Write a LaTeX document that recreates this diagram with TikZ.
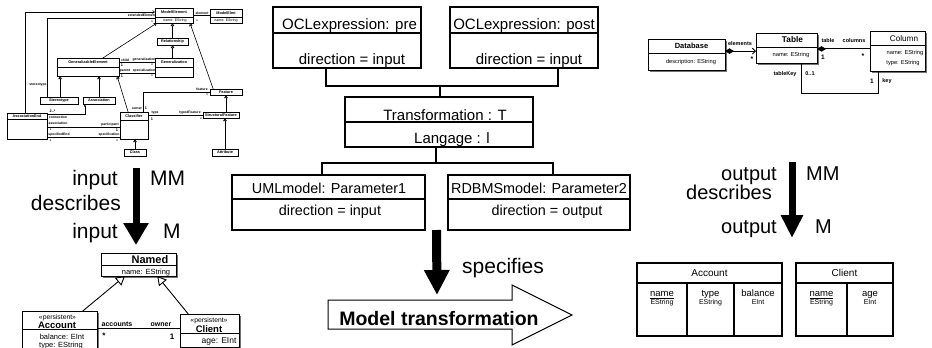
\documentclass[tikz,border=0pt]{standalone}
\usepackage{fontspec}
\setmainfont{Liberation Sans}
\usetikzlibrary{arrows.meta,shadows,calc}
\newcommand\fsz[1]{\fontsize{#1}{#1}\selectfont}
\newcommand\mkbox[6]{%
  \pgfmathsetmacro\mkw{#5-#3}%
  \pgfmathsetmacro\mkh{#6-#4}%
  \node[#1, anchor=north west, minimum width=\mkw pt, minimum height=\mkh pt] (#2) at (#3,#4) {};}
\begin{document}
\begin{tikzpicture}[x=1pt,y=-1pt,
  mainbox/.style={draw, line width=1.8pt, inner sep=0pt, outer sep=0pt},
  mdiv/.style={line width=1.5pt},
  conn/.style={line width=2.4pt},
  ctxt/.style={inner sep=0pt, anchor=base, font=\fsz{15}},
  ptxt/.style={inner sep=0pt, anchor=base, font=\fsz{14.4}},
  bigt/.style={inner sep=0pt, font=\fsz{21}},
  mmbox/.style={draw, line width=0.6pt, fill=white, inner sep=0pt, outer sep=0pt,
    drop shadow={shadow xshift=0.8pt, shadow yshift=-0.8pt, fill=black!60, opacity=1}},
  mmt/.style={inner sep=0pt, font=\fsz{3.8}\bfseries},
  mml/.style={line width=0.6pt},
  inh/.style={mml, -{Triangle[open, length=3pt, width=3.5pt]}},
  umlbox/.style={draw, line width=0.8pt, fill=white, inner sep=0pt, outer sep=0pt,
    drop shadow={shadow xshift=1.5pt, shadow yshift=-1.5pt, fill=black!55, opacity=1}},
  uline/.style={line width=0.9pt},
  ut/.style={inner sep=0pt, font=\fsz{5.5}\bfseries},
  tbl/.style={draw, line width=1.2pt, inner sep=0pt, outer sep=0pt},
  tline/.style={line width=1.1pt}
]
\useasboundingbox (0,0) rectangle (932,348);
\fill[white] (0,0) rectangle (932,348);

%================ centre ================
\mkbox{mainbox}{pre}{273}{7}{421}{68}
\draw[mdiv] (273,33) -- (421,33);
\node[ctxt] (preA) at (349.5,29.3) {OCLexpression: pre};
\node[ctxt] (preB) at (352,64) {direction = input};

\mkbox{mainbox}{post}{450}{7}{598}{68}
\draw[mdiv] (450,33) -- (598,33);
\node[ctxt] (postA) at (524,29.3) {OCLexpression: post};
\node[ctxt] (postB) at (529,64) {direction = input};

\mkbox{mainbox}{trans}{345}{97}{533}{147}
\draw[mdiv] (345,122) -- (533,122);
\node[ctxt] (transA) at (445,120) {Transformation : T};
\node[ctxt] (transB) at (452,143) {Langage : l};

\mkbox{mainbox}{uml}{232}{175}{425}{230}
\draw[mdiv] (232,199) -- (425,199);
\node[ptxt] (umlA) at (329,193) {UMLmodel: Parameter1};
\node[ptxt] (umlB) at (330,215) {direction = input};

\mkbox{mainbox}{rdbms}{448}{175}{630}{230}
\draw[mdiv] (448,199) -- (630,199);
\node[ptxt] (rdA) at (539,193) {RDBMSmodel: Parameter2};
\node[ptxt] (rdB) at (547,215) {direction = output};

\coordinate (jl) at (326,86);
\coordinate (jr) at (558,86);
\coordinate (jt) at (440,86);
\draw[conn] (pre.south -| jl) -- (jl) -- (jr) -- (post.south -| jr);
\draw[conn] (jt) -- (trans.north -| jt);
\coordinate (bt) at (436,163);
\coordinate (bl) at (322,163);
\coordinate (br) at (553,163);
\draw[conn] (trans.south -| bt) -- (bt);
\draw[conn] (uml.north -| bl) -- (bl) -- (br) -- (rdbms.north -| br);

\coordinate (s1) at ($(uml.south east)!0.5!(rdbms.south west)$);
\coordinate (s2) at (437,295);
\draw[line width=9pt, -{Triangle[length=25pt,width=24pt]}] (s1) -- (s2);
\node[inner sep=0pt, anchor=base west, font=\fsz{21}] (spec) at (462,273) {specifies};

\draw[line width=1pt, line join=miter] (328,300) -- (512,300) -- (512,285) -- (572,315) -- (512,345) -- (512,329) -- (328,329) -- cycle;
\node[inner sep=0pt, anchor=base, font=\fsz{19.5}\bfseries] (mt) at (439,325) {Model transformation};

%================ left arrow ================
\coordinate (la1) at (136,168);
\coordinate (la2) at (136,245);
\draw[line width=7pt, -{Triangle[length=22pt,width=24pt]}] (la1) -- (la2);
\node[bigt, anchor=base east] (lin1) at (118,185) {input};
\node[bigt, anchor=base west] (lmm) at (150,185) {MM};
\node[bigt, anchor=base east] (ldes) at (121,210) {describes};
\node[bigt, anchor=base east] (lin2) at (118,238) {input};
\node[bigt, anchor=base west] (lm) at (163,238) {M};

%================ right arrow ================
\coordinate (ra1) at (792,162);
\coordinate (ra2) at (792,238);
\draw[line width=7pt, -{Triangle[length=23pt,width=21pt]}] (ra1) -- (ra2);
\node[bigt, anchor=base east, font=\fsz{20}] (rout1) at (777,180) {output};
\node[bigt, anchor=base west, font=\fsz{20}] (rmm) at (806,180) {MM};
\node[bigt, anchor=base east, font=\fsz{20}] (rdes) at (772,199) {describes};
\node[bigt, anchor=base east, font=\fsz{20}] (rout2) at (777,233) {output};
\node[bigt, anchor=base west, font=\fsz{20}] (rm) at (815,233) {M};

%================ top-left metamodel ================
\mkbox{mmbox}{me}{155}{8}{193}{23}
\draw[mml] (155,17) -- (193,17);
\node[mmt] at (174,12.5) {ModelElement};
\node[mmt, font=\fsz{3.6}] at (175,20.5) {name: EString};
\mkbox{mmbox}{mel}{210}{9}{242}{23}
\draw[mml] (210,17) -- (242,17);
\node[mmt] at (226,13) {ModelElmt};
\node[mmt, font=\fsz{3.6}] at (226,20.5) {name: EString};
\mkbox{mmbox}{rel}{157}{38}{188}{45}
\node[mmt] at (172.5,41.5) {Relationship};
\mkbox{mmbox}{gen}{155}{58}{193}{77}
\draw[mml] (155,67) -- (193,67);
\node[mmt] at (174,62.5) {Generalization};
\mkbox{mmbox}{ge}{57}{58}{119}{76}
\draw[mml] (57,67) -- (119,67);
\node[mmt] at (88,62.5) {GeneralizableElement};
\mkbox{mmbox}{ster}{40}{97}{78}{104}
\node[mmt] at (59,100.5) {Stereotype};
\mkbox{mmbox}{assoc}{83}{97}{115}{104}
\node[mmt] at (99,100.5) {Association};
\mkbox{mmbox}{ae}{7}{113}{47}{139}
\draw[mml] (7,119.5) -- (47,119.5);
\node[mmt] at (27,116) {AssociationEnd};
\mkbox{mmbox}{cl}{120}{112}{148}{139}
\draw[mml] (120,120) -- (148,120);
\node[mmt] at (134,116) {Classifier};
\mkbox{mmbox}{cls}{124}{149}{146}{156}
\node[mmt] at (135,152.5) {Class};
\mkbox{mmbox}{feat}{210}{89}{242}{95}
\node[mmt] at (226,92) {Feature};
\mkbox{mmbox}{sf}{203}{112}{239}{118}
\node[mmt] at (221,115) {StructuralFeature};
\mkbox{mmbox}{attr}{212}{149}{238}{156}
\node[mmt] at (225,152.5) {Attribute};

% inheritance
\draw[inh] (rel.north) -- (rel.north |- me.south);
\draw[inh] (gen.north -| rel.south) -- (rel.south);
\draw[inh] ($(ge.north west)!0.74!(ge.north east)$) -- ($(me.south west)!0.05!(me.south east)$);
\draw[inh] ($(feat.north west)!0.1!(feat.north east)$) -- ($(me.south west)!0.92!(me.south east)$);
\draw[inh] (sf.north -| feat.south) -- (feat.south);
\draw[inh] (attr.north) -- (attr.north |- sf.south);
\draw[inh] (cls.north) -- (cls.north |- cl.south);
\coordinate (gs1) at ($(ge.south west)!0.05!(ge.south east)$);
\draw[inh] (ster.north -| gs1) -- (gs1);
\draw[inh] (assoc.north) -- (assoc.north |- ge.south);
\draw[inh] ($(cl.north west)!0.29!(cl.north east)$) -- ($(ge.south west)!0.97!(ge.south east)$);

% associations
\draw[mml] (me.east) -- (me.east -| mel.west);
\node[mmt, font=\fsz{3.4}\bfseries] at (202,13) {element};
\node[mmt] at (197,21) {*};
\coordinate (gg1) at ($(ge.north east)!0.22!(ge.south east)$);
\coordinate (gg2) at ($(ge.north east)!0.83!(ge.south east)$);
\draw[mml] (gg1) -- (gg1 -| gen.west);
\draw[mml] (gg2) -- (gg2 -| gen.west);
\node[mmt, font=\fsz{3.4}\bfseries] at (125,59.8) {child};
\node[mmt, font=\fsz{3.4}\bfseries] at (144,59.8) {generalization};
\node[mmt] at (122,65.5) {1};
\node[mmt] at (152,65.5) {*};
\node[mmt, font=\fsz{3.4}\bfseries] at (125,70.8) {parent};
\node[mmt, font=\fsz{3.4}\bfseries] at (144,70.8) {specialization};
\node[mmt] at (122,76.5) {1};
\node[mmt] at (152,76.5) {*};
\coordinate (pA) at ($(assoc.south west)!0.06!(assoc.south east)$);
\draw[mml, -{Latex[length=2.5pt,width=2.2pt]}] ($(ae.north east)+(0,1)$) -| (pA);
\node[mmt] at (52.5,111) {2..*};
\node[mmt, font=\fsz{3.4}\bfseries] at (58,117.5) {connection};
\node[mmt, font=\fsz{3.4}\bfseries] at (58,123.5) {association};
\coordinate (ac1) at ($(ae.north east)!0.54!(ae.south east)$);
\coordinate (ac2) at ($(ae.north east)!0.92!(ae.south east)$);
\draw[mml] (ac1) -- (ac1 -| cl.west);
\draw[mml] (ac2) -- (ac2 -| cl.west);
\node[mmt, font=\fsz{3.4}\bfseries] at (110,124.5) {participant};
\node[mmt] at (50.5,130) {*};
\node[mmt] at (117,130) {1};
\node[mmt, font=\fsz{3.4}\bfseries] at (59,134.5) {specifiedEnd};
\node[mmt, font=\fsz{3.4}\bfseries] at (109,134.5) {specification};
\node[mmt] at (50.5,141) {*};
\node[mmt] at (117,141) {*};
\coordinate (cf) at ($(cl.north west)!0.82!(cl.north east)$);
\draw[mml] (cf) |- (feat.west);
\node[mmt, font=\fsz{3.4}\bfseries] at (137,108.5) {owner};
\node[mmt] at (146,108.5) {1};
\node[mmt, font=\fsz{3.4}\bfseries] at (202,89.3) {feature};
\node[mmt] at (207,95.5) {*};
\draw[mml] (sf.west -| cl.east) -- (sf.west);
\node[mmt, font=\fsz{3.4}\bfseries] at (155,112.5) {type};
\node[mmt] at (152,119) {1};
\node[mmt, font=\fsz{3.4}\bfseries] at (190,112.5) {typedFeature};
\node[mmt] at (201,119.5) {*};
\coordinate (fa) at ($(ae.north west)!0.45!(ae.north east)$);
\coordinate (fm) at ($(me.north west)!0.27!(me.south west)$);
\draw[mml, -{Straight Barb[length=2pt,width=3pt]}] (fa) |- (fm);
\coordinate (fs) at ($(ster.north west)!0.18!(ster.north east)$);
\coordinate (fm2) at ($(me.north west)!0.67!(me.south west)$);
\draw[mml] (fs) |- (fm2);
\node[mmt, font=\fsz{3.4}\bfseries] at (142,15.2) {extendedElement};
\node[mmt] at (152,22) {*};
\node[mmt, font=\fsz{3.4}\bfseries] at (38,84.5) {stereotype};

%================ bottom-left model ================
\mkbox{umlbox}{named}{101}{253}{176}{276}
\draw[uline] (101,265) -- (176,265);
\node[inner sep=0pt, anchor=base, font=\fsz{11}\bfseries] at (150,263) {Named};
\node[inner sep=0pt, anchor=base, font=\fsz{7.5}] at (146,274) {name: EString};
\mkbox{umlbox}{acc}{22}{311}{97}{360}
\draw[uline] (22,329.5) -- (97,329.5);
\node[inner sep=0pt, anchor=base, font=\fsz{6.8}] at (57.5,319.5) {«persistent»};
\node[inner sep=0pt, anchor=base, font=\fsz{9.5}\bfseries] at (57,328.5) {Account};
\node[inner sep=0pt, anchor=base, font=\fsz{7.5}] at (62,339.5) {balance: EInt};
\node[inner sep=0pt, anchor=base, font=\fsz{7.5}] at (61,347.3) {type: EString};
\mkbox{umlbox}{cli}{180}{314}{239}{347}
\draw[uline] (180,333.5) -- (239,333.5);
\node[inner sep=0pt, anchor=base, font=\fsz{6.8}] at (209,322.5) {«persistent»};
\node[inner sep=0pt, anchor=base, font=\fsz{9.5}\bfseries] at (209,332) {Client};
\node[inner sep=0pt, anchor=base, font=\fsz{8.5}] at (219,343) {age: EInt};
\draw[uline, -{Triangle[open, length=9pt, width=10pt]}] ($(acc.north west)!0.81!(acc.north east)$) -- ($(named.south west)!0.32!(named.south east)$);
\draw[uline, -{Triangle[open, length=9pt, width=10pt]}] ($(cli.north west)!0.14!(cli.north east)$) -- ($(named.south west)!0.75!(named.south east)$);
\coordinate (aa) at ($(acc.north east)!0.365!(acc.south east)$);
\draw[uline] (aa) -- (aa -| cli.west);
\node[inner sep=0pt, anchor=base, font=\fsz{7}\bfseries] at (117,326) {accounts};
\node[inner sep=0pt, anchor=base, font=\fsz{7}\bfseries] at (161,326) {owner};
\node[inner sep=0pt, anchor=base, font=\fsz{8}\bfseries] at (104,338) {*};
\node[inner sep=0pt, anchor=base, font=\fsz{8}\bfseries] at (172,339) {1};

%================ top-right metamodel ================
\mkbox{umlbox}{db}{648}{39}{725}{70}
\draw[uline] (648,53) -- (725,53);
\node[inner sep=0pt, font=\fsz{7.5}\bfseries] at (691.5,46) {Database};
\node[inner sep=0pt, font=\fsz{5.7}] at (691,62) {description: EString};
\mkbox{umlbox}{tab}{756}{33}{817}{63}
\draw[uline] (756,47) -- (817,47);
\node[inner sep=0pt, font=\fsz{8.3}\bfseries] at (792.5,39.5) {Table};
\node[inner sep=0pt, font=\fsz{5.7}] at (791,55) {name: EString};
\mkbox{umlbox}{col}{870}{31}{925}{71}
\draw[uline] (870,45) -- (925,45);
\node[inner sep=0pt, font=\fsz{8.2}] at (904,38.5) {Column};
\node[inner sep=0pt, font=\fsz{5.7}] at (905,53) {name: EString};
\node[inner sep=0pt, font=\fsz{5.7}] at (903,63) {type: EString};
\coordinate (dt) at ($(db.north east)!0.39!(db.south east)$);
\draw[uline, {Diamond[length=9pt,width=5.5pt]}-{Straight Barb[length=3pt,width=6pt]}] (dt) -- (dt -| tab.west);
\node[ut] at (740,44) {elements};
\node[ut, font=\fsz{7}\bfseries] at (752,59) {*};
\coordinate (tc) at ($(tab.north east)!0.53!(tab.south east)$);
\draw[uline, {Diamond[length=9pt,width=5.5pt]}-] (tc) -- (tc -| col.west);
\node[ut] at (828,41) {table};
\node[ut] at (854,41) {columns};
\node[ut, font=\fsz{6.5}\bfseries] at (823,57) {1};
\node[ut, font=\fsz{7}\bfseries] at (863,56) {*};
\coordinate (pk) at ($(tab.south west)!0.75!(tab.south east)$);
\coordinate (kb) at (878,93);
\draw[uline] (pk) |- (kb) -- (kb |- col.south);
\node[ut] at (785,74) {tableKey};
\node[ut] at (810,74) {0..1};
\node[ut, font=\fsz{6.5}\bfseries] at (872,81) {1};
\node[ut] at (887,81) {key};

%================ bottom-right tables ================
\mkbox{tbl}{acct}{637}{263}{782}{336}
\draw[tline] (637,283) -- (782,283);
\draw[tline] (687,283) -- (687,336);
\draw[tline] (734,283) -- (734,336);
\node[inner sep=0pt, font=\fsz{10}] at (709.5,273) {Account};
\node[inner sep=0pt, anchor=base, font=\fsz{9.5}] at (662,296.5) {\underline{name}};
\node[inner sep=0pt, anchor=base, font=\fsz{9.5}] at (710.5,296.5) {type};
\node[inner sep=0pt, anchor=base, font=\fsz{9.5}] at (758,296.5) {balance};
\node[inner sep=0pt, anchor=base, font=\fsz{7}] at (662,304.5) {EString};
\node[inner sep=0pt, anchor=base, font=\fsz{7}] at (710.5,304.5) {EString};
\node[inner sep=0pt, anchor=base, font=\fsz{7}] at (758,304.5) {EInt};
\mkbox{tbl}{clnt}{796}{263}{893}{336}
\draw[tline] (796,283) -- (893,283);
\draw[tline] (847,283) -- (847,336);
\node[inner sep=0pt, font=\fsz{10}] at (844.5,273) {Client};
\node[inner sep=0pt, anchor=base, font=\fsz{9.5}] at (821.5,296.5) {\underline{name}};
\node[inner sep=0pt, anchor=base, font=\fsz{9.5}] at (870,296.5) {age};
\node[inner sep=0pt, anchor=base, font=\fsz{7}] at (821.5,304.5) {EString};
\node[inner sep=0pt, anchor=base, font=\fsz{7}] at (870,304.5) {EInt};
\end{tikzpicture}
\end{document}
